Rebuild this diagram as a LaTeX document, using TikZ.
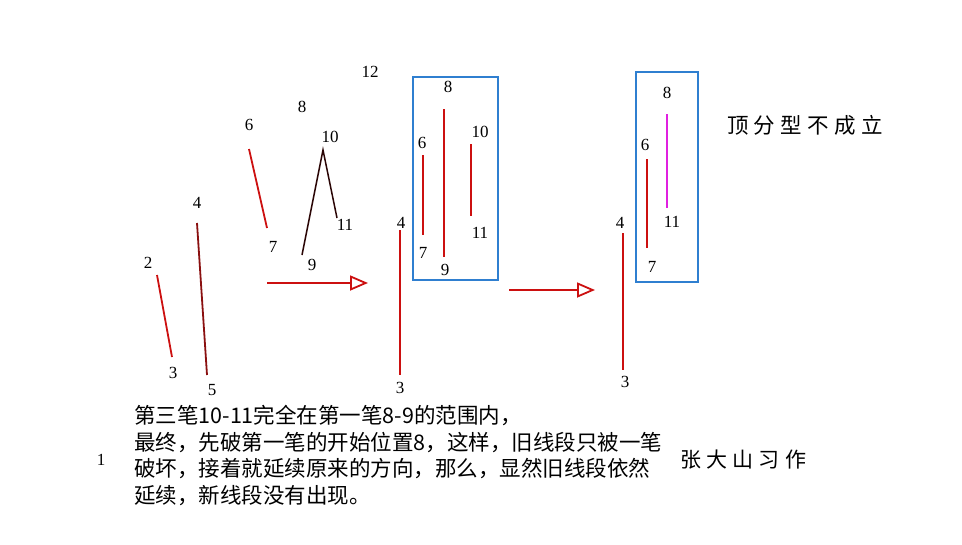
\documentclass[tikz,border=0pt]{standalone}
\usepackage{fontspec}
\setmainfont{Liberation Serif}
\newfontfamily\cjk{Noto Sans CJK SC}
\newfontfamily\cjkwide[LetterSpace=25]{Noto Sans CJK SC}
\usetikzlibrary{arrows.meta}
\definecolor{seg}{HTML}{CC1010}
\definecolor{segdark}{HTML}{8A1010}
\definecolor{segblack}{HTML}{2A0505}
\definecolor{newseg}{HTML}{E020E0}
\definecolor{frame}{HTML}{2F7FD0}

\begin{document}
\begin{tikzpicture}[
    x=1pt, y=-1pt,
    lbl/.style={font=\fontsize{17}{17}\selectfont, inner sep=1pt},
    stroke/.style={seg, line width=1.8pt},
    box/.style={frame, line width=2pt},
    move/.style={seg, line width=1.8pt, -{Triangle[open, length=18pt, width=15pt]}},
    note/.style={font=\cjk\fontsize{21.5}{26.5}\selectfont, align=left, inner sep=0pt},
]
\useasboundingbox (0,0) rectangle (962,544);

% --- left: original strokes
\coordinate (a2) at (157,275);  \coordinate (a3) at (172,357);
\coordinate (a4) at (197,223);  \coordinate (a5) at (207,375);
\coordinate (a6) at (249,149);  \coordinate (a7) at (267,228);
\coordinate (a9) at (302,255);  \coordinate (a10) at (323,150);
\coordinate (a11) at (337,218);

\node[lbl] (l2) at (148,263) {2};
\node[lbl] (l3) at (173,373) {3};
\node[lbl] (l4) at (197,203) {4};
\node[lbl] (l5) at (212,390) {5};
\node[lbl] (l6) at (249,125) {6};
\node[lbl] (l7) at (273,247) {7};
\node[lbl] (l8) at (302,107) {8};
\node[lbl] (l9) at (312,265) {9};
\node[lbl] (l10) at (330,137) {10};
\node[lbl] (l11) at (345,225) {11};
\node[lbl] (l12) at (370,72) {12};

\draw[stroke] (a2) -- (a3);
\draw[stroke, segdark] (a4) -- (a5);
\draw[stroke] (a6) -- (a7);
\draw[stroke, segblack, line width=1.5pt] (a9) -- (a10) -- (a11);

\coordinate (s1) at (267,283);
\coordinate (e1) at (368,283);
\draw[move] (s1) -- (e1);

% --- middle: strokes in the box
\coordinate (b4) at (400,230);  \coordinate (b3) at (400,375);
\coordinate (b8) at (444,109);  \coordinate (b9) at (444,257);
\coordinate (b6) at (423,155);  \coordinate (b7) at (423,235);
\coordinate (b10) at (471,144); \coordinate (b11) at (471,216);

\node[lbl] (m4) at (401,223) {4};
\node[lbl] (m3) at (400,388) {3};
\node[lbl] (m8) at (448,87) {8};
\node[lbl] (m9) at (445,270) {9};
\node[lbl] (m6) at (422,143) {6};
\node[lbl] (m7) at (423,253) {7};
\node[lbl] (m10) at (480,132) {10};
\node[lbl] (m11) at (480,233) {11};

\draw[box] (413,77) rectangle (498,280);
\draw[stroke] (b4) -- (b3);
\draw[stroke] (b8) -- (b9);
\draw[stroke] (b6) -- (b7);
\draw[stroke] (b10) -- (b11);

\coordinate (s2) at (509,290);
\coordinate (e2) at (595,290);
\draw[move] (s2) -- (e2);

% --- right: result
\coordinate (c4) at (623,233);  \coordinate (c3) at (623,370);
\coordinate (c6) at (647,159);  \coordinate (c7) at (647,248);
\coordinate (c8) at (667,114);  \coordinate (c11) at (667,208);

\node[lbl] (r4) at (620,223) {4};
\node[lbl] (r3) at (625,382) {3};
\node[lbl] (r8) at (667,93) {8};
\node[lbl] (r11) at (672,222) {11};
\node[lbl] (r6) at (645,145) {6};
\node[lbl] (r7) at (652,267) {7};

\draw[box] (636,72) rectangle (698,282);
\draw[stroke] (c4) -- (c3);
\draw[stroke] (c6) -- (c7);
\draw[stroke, newseg] (c8) -- (c11);

\node[font=\cjkwide\fontsize{21.5}{21.5}\selectfont, inner sep=0pt] (verdict) at (805,125) {顶分型不成立};

% --- notes
\node[lbl] (one) at (101,460) {1};
\node[note, anchor=north west] (text) at (134,405) {%
第三笔10-11完全在第一笔8-9的范围内，\\
最终，先破第一笔的开始位置8，这样，旧线段只被一笔\\
破坏，接着就延续原来的方向，那么，显然旧线段依然\\
延续，新线段没有出现。};
\node[font=\cjkwide\fontsize{21}{21}\selectfont, inner sep=0pt] (author) at (743,460) {张大山习作};

\end{tikzpicture}
\end{document}
